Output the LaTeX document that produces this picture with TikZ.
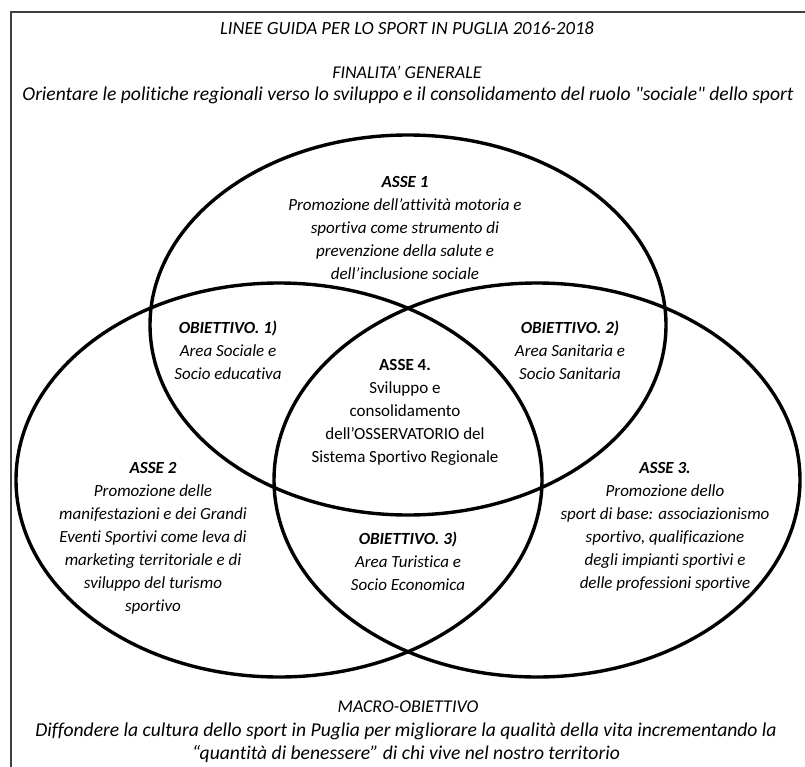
\documentclass[tikz,border=0pt]{standalone}
\usepackage{fontspec}
\setmainfont{Carlito}[Ligatures={TeXOff,NoCommon}]
\begin{document}
\begin{tikzpicture}[x=1pt,y=-1pt,
  txt/.style={align=center, font=\fontsize{17}{23}\selectfont\itshape, inner sep=0pt},
  big/.style={align=center, font=\fontsize{19.6}{23.5}\selectfont\itshape, inner sep=0pt},
  head/.style={align=center, font=\fontsize{18}{23}\selectfont\itshape, inner sep=0pt},
  up/.style={align=center, font=\fontsize{17}{23}\selectfont, inner sep=0pt},
  venn/.style={line width=3.4pt, black},
  frame/.style={line width=1.5pt, black!75}]
\useasboundingbox (0,0) rectangle (805,767);
\draw[frame] (11,767) -- (11,12) -- (805,12);
% Venn ellipses
\draw[venn] (408,325) ellipse [x radius=258pt, y radius=190pt];
\draw[venn] (279,480) ellipse [x radius=263pt, y radius=197pt];
\draw[venn] (537,480) ellipse [x radius=263pt, y radius=197pt];
% texts
\node[head, font=\fontsize{18.6}{23}\selectfont\itshape] (title) at (407,28) {LINEE GUIDA PER LO SPORT IN PUGLIA 2016-2018};
\node[head] (fin) at (407,72) {FINALITA’ GENERALE};
\node[big] (orient) at (408,95) {Orientare le politiche regionali verso lo sviluppo e il consolidamento del ruolo "sociale" dello sport};
\node[txt] (asse1) at (405,228) {{\bfseries ASSE 1}\\Promozione dell’attività motoria e\\sportiva come strumento di\\prevenzione della salute e\\dell’inclusione sociale};
\node[txt] (ob1) at (228,350) {{\bfseries OBIETTIVO. 1)}\\Area Sociale e\\Socio educativa};
\node[txt] (ob2) at (570,350) {{\bfseries OBIETTIVO. 2)}\\Area Sanitaria e\\Socio Sanitaria};
\node[up] (asse4) at (405,412) {{\bfseries ASSE 4.}\\Sviluppo e\\consolidamento\\dell’OSSERVATORIO del\\Sistema Sportivo Regionale};
\node[txt] (asse2) at (153,538) {{\bfseries ASSE 2}\\Promozione delle\\manifestazioni e dei Grandi\\Eventi Sportivi come leva di\\marketing territoriale e di\\sviluppo del turismo\\sportivo};
\node[txt] (asse3) at (665,527) {{\bfseries ASSE 3.}\\Promozione dello\\sport di base: associazionismo\\sportivo, qualificazione\\degli impianti sportivi e\\delle professioni sportive};
\node[txt] (ob3) at (408,561) {{\bfseries OBIETTIVO. 3)}\\Area Turistica e\\Socio Economica};
\node[head] (macro) at (408,707) {MACRO-OBIETTIVO};
\node[big] (diff) at (406,743) {Diffondere la cultura dello sport in Puglia per migliorare la qualità della vita incrementando la\\“quantità di benessere” di chi vive nel nostro territorio};
\end{tikzpicture}
\end{document}
